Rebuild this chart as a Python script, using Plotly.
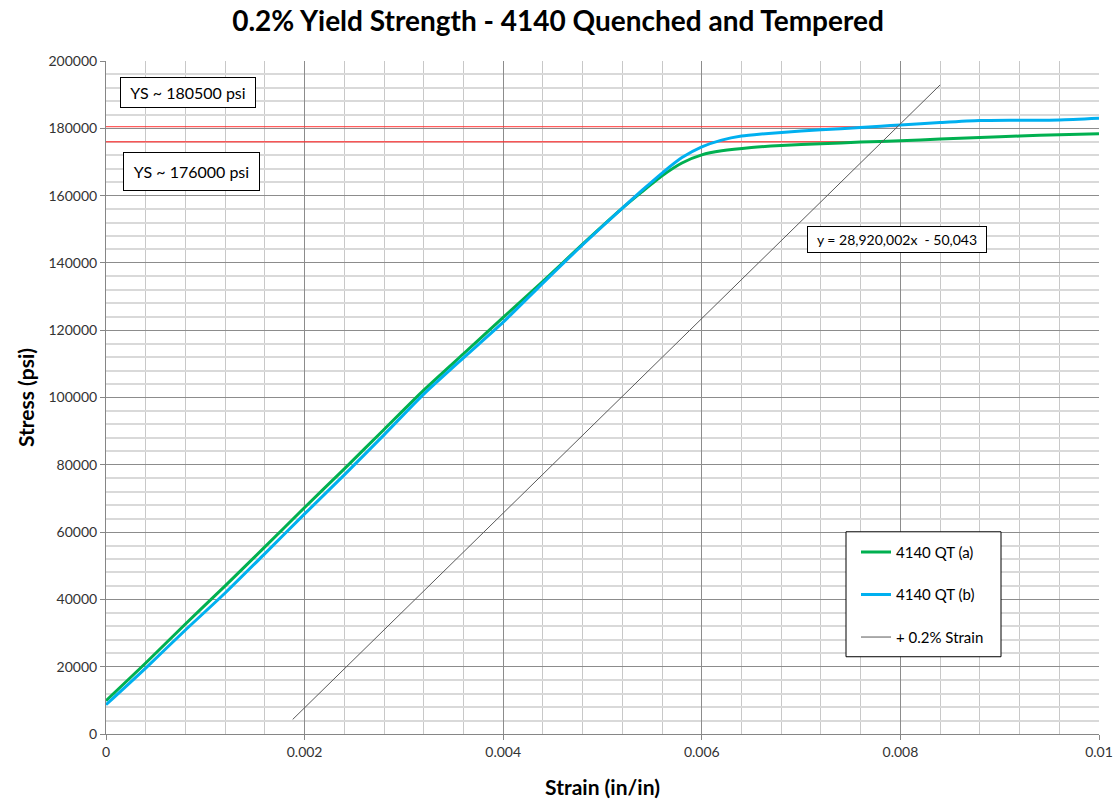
import plotly.graph_objects as go

# Stress-strain data, 4140 quenched and tempered (strain in/in, stress psi)
strain_a = [0, 0.0004, 0.0008, 0.0012, 0.0016, 0.002, 0.0024, 0.0028, 0.0032, 0.0036,
            0.004, 0.0044, 0.0048, 0.0052, 0.0054, 0.0056, 0.0058, 0.006, 0.0062,
            0.0065, 0.0068, 0.0072, 0.0076, 0.008, 0.0084, 0.0088, 0.0092, 0.0096, 0.01]
stress_a = [9900, 21100, 32700, 44000, 55600, 67300, 78800, 90500, 102200, 113000,
            123800, 134500, 145600, 156300, 161200, 165900, 169700, 172100, 173300,
            174300, 174900, 175400, 175900, 176300, 176800, 177300, 177700, 178100, 178400]

strain_b = [0, 0.0004, 0.0008, 0.0012, 0.0016, 0.002, 0.0024, 0.0028, 0.0032, 0.0036,
            0.004, 0.0044, 0.0048, 0.0052, 0.0054, 0.0056, 0.0058, 0.006, 0.0062,
            0.0064, 0.0066, 0.007, 0.0074, 0.0078, 0.008, 0.0084, 0.0088, 0.0092,
            0.0096, 0.01]
stress_b = [8700, 19600, 30900, 41900, 53600, 65400, 77000, 88900, 101000, 111800,
            122400, 134000, 145400, 156300, 161600, 166700, 171300, 174500, 176500,
            177700, 178300, 179200, 179900, 180600, 181000, 181700, 182300, 182400,
            182500, 183000]

# 0.2% offset line: y = slope * x + intercept
offset_slope = 28920002
offset_intercept = -50043
offset_x = [0.00188, 0.0084]
offset_y = [offset_slope * x + offset_intercept for x in offset_x]

# Yield strengths read at the offset-line intersections
yield_strengths = [180500, 176000]
yield_labels = ["YS ~ 180500 psi", "YS ~ 176000 psi"]

GREEN = "#00B050"
BLUE = "#00B0F0"
FONT = "Lato, 'Open Sans', sans-serif"

fig = go.Figure()

# Horizontal yield-strength lines, from the stress axis to the offset line
for ys in yield_strengths:
    x_end = (ys - offset_intercept) / offset_slope
    fig.add_trace(go.Scatter(
        x=[0, x_end], y=[ys, ys], mode="lines",
        line=dict(color="rgba(255,40,40,0.75)", width=1.3),
        showlegend=False, hoverinfo="skip"))

fig.add_trace(go.Scatter(
    x=strain_a, y=stress_a, mode="lines", name="4140 QT (a)",
    line=dict(color=GREEN, width=3, shape="spline", smoothing=0.6),
    legendgroup="a"))
fig.add_trace(go.Scatter(
    x=strain_b, y=stress_b, mode="lines", name="4140 QT (b)",
    line=dict(color=BLUE, width=3, shape="spline", smoothing=0.6),
    legendgroup="b"))
fig.add_trace(go.Scatter(
    x=offset_x, y=offset_y, mode="lines", name="+ 0.2% Strain",
    line=dict(color="#595959", width=1),
    legendgroup="c"))

# Text boxes
box = dict(bordercolor="black", borderwidth=1, bgcolor="white",
           xref="paper", yref="paper", showarrow=False,
           xanchor="center", yanchor="middle", borderpad=4)
fig.add_annotation(text=yield_labels[0], x=0.0821, y=0.9533, width=126, height=21,
                   font=dict(family=FONT, size=16, color="black"), **box)
fig.add_annotation(text=yield_labels[1], x=0.0856, y=0.8351, width=127, height=29,
                   font=dict(family=FONT, size=16, color="black"), **box)
fig.add_annotation(text="y = 28,920,002x  - 50,043", x=0.7966, y=0.7349, width=170, height=17,
                   font=dict(family=FONT, size=14, color="black"), **box)

# Legend frame
fig.add_shape(type="rect", xref="paper", yref="paper",
              x0=(846 - 106) / 993, x1=(1001 - 106) / 993,
              y0=(734.3 - 657) / 673.3, y1=(734.3 - 532) / 673.3,
              line=dict(color="black", width=1), fillcolor="white", layer="above")

axis_common = dict(
    showline=True, linecolor="#868686", linewidth=1,
    ticks="outside", ticklen=5, tickcolor="#868686",
    showgrid=True, gridcolor="#8C8C8C", gridwidth=1, automargin=False,
    zeroline=False, tickfont=dict(family=FONT, size=14, color="#333333"),
)

fig.update_layout(
    width=1116, height=799,
    margin=dict(l=106, r=17, t=61, b=65),
    paper_bgcolor="white", plot_bgcolor="white",
    title=dict(text="<b>0.2% Yield Strength - 4140 Quenched and Tempered</b>",
               x=0.5, xanchor="center", y=0.974, yanchor="middle", yref="container",
               font=dict(family=FONT, size=28, color="black")),
    xaxis=dict(range=[0, 0.01], dtick=0.002, tick0=0,
               title=dict(text="<b>Strain (in/in)</b>", standoff=21,
                          font=dict(family=FONT, size=21, color="black")),
               minor=dict(dtick=0.0004, showgrid=True, gridcolor="#C8C8C8", gridwidth=1),
               **axis_common),
    yaxis=dict(range=[0, 200000], dtick=20000, tick0=0, tickformat="d",
               title=dict(text="<b>Stress (psi)</b>", standoff=8,
                          font=dict(family=FONT, size=21, color="black")),
               minor=dict(dtick=4000, showgrid=True, gridcolor="#D9D9D9", gridwidth=2),
               **axis_common),
    legend=dict(x=(856 - 106) / 993, y=(734.3 - 536) / 673.3, xanchor="left", yanchor="top",
                borderwidth=0, bgcolor="rgba(0,0,0,0)",
                font=dict(family=FONT, size=15, color="black"),
                traceorder="grouped", tracegroupgap=20, itemwidth=30),
    showlegend=True,
)

fig.write_html("out.html")
